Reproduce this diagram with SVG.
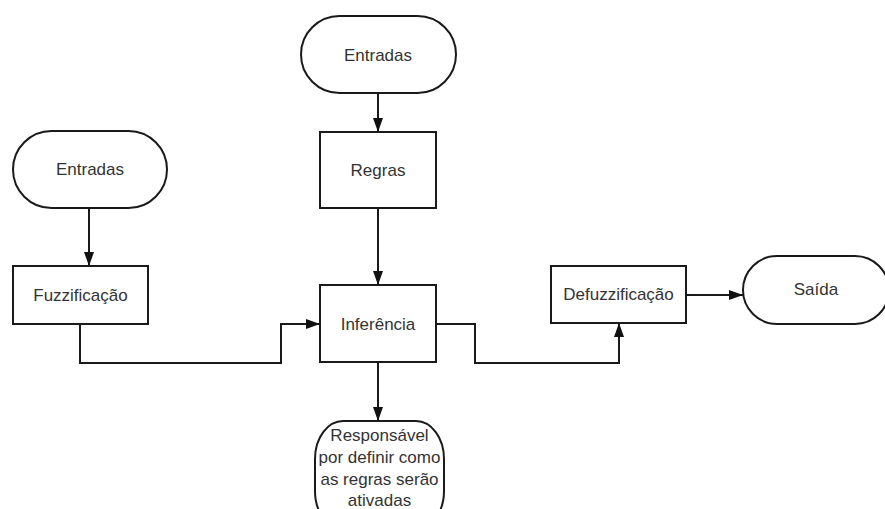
<svg xmlns="http://www.w3.org/2000/svg" width="885" height="509" viewBox="0 0 885 509">
  <style>
    .shape { fill: #ffffff; stroke: #1a1a1a; stroke-width: 2; }
    .label { font-family: "Liberation Sans", Arial, sans-serif; font-size: 17px; fill: #333333; text-anchor: middle; dominant-baseline: central; }
    .note { font-family: "Liberation Sans", Arial, sans-serif; font-size: 17px; fill: #333333; text-anchor: middle; }
    .wire { fill: none; stroke: #1a1a1a; stroke-width: 2; }
  </style>
  <defs>
    <marker id="arrow" viewBox="0 0 14 10" refX="14" refY="5" markerWidth="14" markerHeight="10" markerUnits="userSpaceOnUse" orient="auto">
      <path d="M0,0 L14,5 L0,10 Z" fill="#111111"/>
    </marker>
  </defs>
  <rect width="885" height="509" fill="#ffffff"/>

  <g id="connectors">
    <path class="wire" d="M378,93 V132" marker-end="url(#arrow)"/>
    <path class="wire" d="M378,208 V285" marker-end="url(#arrow)"/>
    <path class="wire" d="M89,208 V266" marker-end="url(#arrow)"/>
    <path class="wire" d="M80,324 V363 H281 V324 H320" marker-end="url(#arrow)"/>
    <path class="wire" d="M436,324 H475 V363 H619 V323" marker-end="url(#arrow)"/>
    <path class="wire" d="M686,295 H743" marker-end="url(#arrow)"/>
    <path class="wire" d="M378,362 V421" marker-end="url(#arrow)"/>
  </g>

  <g id="entradas-top">
    <rect class="shape" x="301" y="16" width="155" height="77" rx="38.5" ry="38.5"/>
    <text class="label" x="378" y="55">Entradas</text>
  </g>
  <g id="regras">
    <rect class="shape" x="320" y="132" width="116" height="76"/>
    <text class="label" x="378" y="170">Regras</text>
  </g>
  <g id="entradas-left">
    <rect class="shape" x="13" y="131" width="154" height="77" rx="38.5" ry="38.5"/>
    <text class="label" x="90" y="169">Entradas</text>
  </g>
  <g id="fuzzificacao">
    <rect class="shape" x="13" y="266" width="135" height="58"/>
    <text class="label" x="80.5" y="295">Fuzzificação</text>
  </g>
  <g id="inferencia">
    <rect class="shape" x="320" y="285" width="116" height="77"/>
    <text class="label" x="378" y="324">Inferência</text>
  </g>
  <g id="defuzzificacao">
    <rect class="shape" x="551" y="266" width="135" height="57"/>
    <text class="label" x="618.5" y="294.5">Defuzzificação</text>
  </g>
  <g id="saida">
    <rect class="shape" x="743" y="256" width="146" height="68" rx="34" ry="34"/>
    <text class="label" x="816" y="289">Saída</text>
  </g>
  <g id="responsavel">
    <rect class="shape" x="315" y="421" width="129" height="108" rx="28" ry="38"/>
    <text class="note" x="379.5" y="441">Responsável</text>
    <text class="note" x="379.5" y="463">por definir como</text>
    <text class="note" x="379.5" y="485">as regras serão</text>
    <text class="note" x="379.5" y="506">ativadas</text>
  </g>
</svg>
